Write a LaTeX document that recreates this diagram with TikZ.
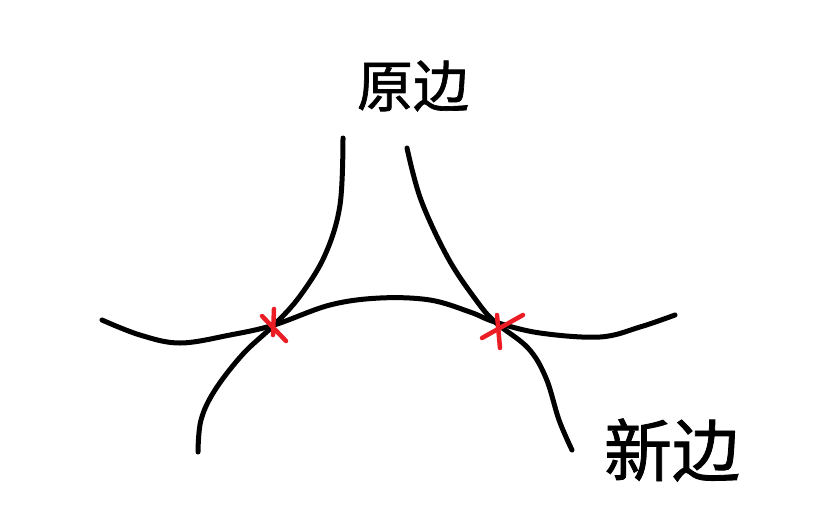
\documentclass[tikz,border=0pt]{standalone}
\usepackage{fontspec}
\newfontfamily\cjk[FakeBold=1.2]{Noto Sans CJK SC}
\definecolor{xred}{RGB}{236,28,36}
\begin{document}
\begin{tikzpicture}[x=1pt,y=-1pt,
  curve/.style={line width=5pt,line cap=round,line join=round,black},
  cross/.style={line width=4.5pt,line cap=round,xred},
  lbl/.style={inner sep=0pt}]
\useasboundingbox (0,0) rectangle (830,523);
% left edge
\draw[curve] plot[smooth,tension=0.6] coordinates {(343,138) (340,205) (325,255) (300,296) (274,325) (243,354) (215,390) (201,420) (198,452)};
% right edge
\draw[curve] plot[smooth,tension=0.6] coordinates {(407,148) (421,200) (448,258) (476,300) (495,322) (528,348) (546,378) (559,420) (572,450)};
% horizontal edge
\draw[curve] plot[smooth,tension=0.6] coordinates {(102,320) (140,335) (180,343) (230,335) (274,325) (330,305) (380,298) (430,300) (470,312) (495,322) (540,333) (600,337) (640,327) (675,315)};
% crosses
\coordinate (c1) at (274,325);
\coordinate (c2) at (497,326);
\draw[cross] ([shift={(-12,-9)}]c1) -- ([shift={(12,16)}]c1);
\draw[cross] ([shift={(0,-16)}]c1) -- ([shift={(-1,10)}]c1);
\draw[cross] ([shift={(-15,12)}]c2) -- ([shift={(26,-11)}]c2);
\draw[cross] ([shift={(0,-11)}]c2) -- ([shift={(3,22)}]c2);
% labels
\node[lbl,font=\cjk\fontsize{56}{56}\selectfont] (orig) at (413,86) {原边};
\node[lbl,font=\cjk\fontsize{68}{68}\selectfont] (new) at (672,450) {新边};
\end{tikzpicture}
\end{document}
